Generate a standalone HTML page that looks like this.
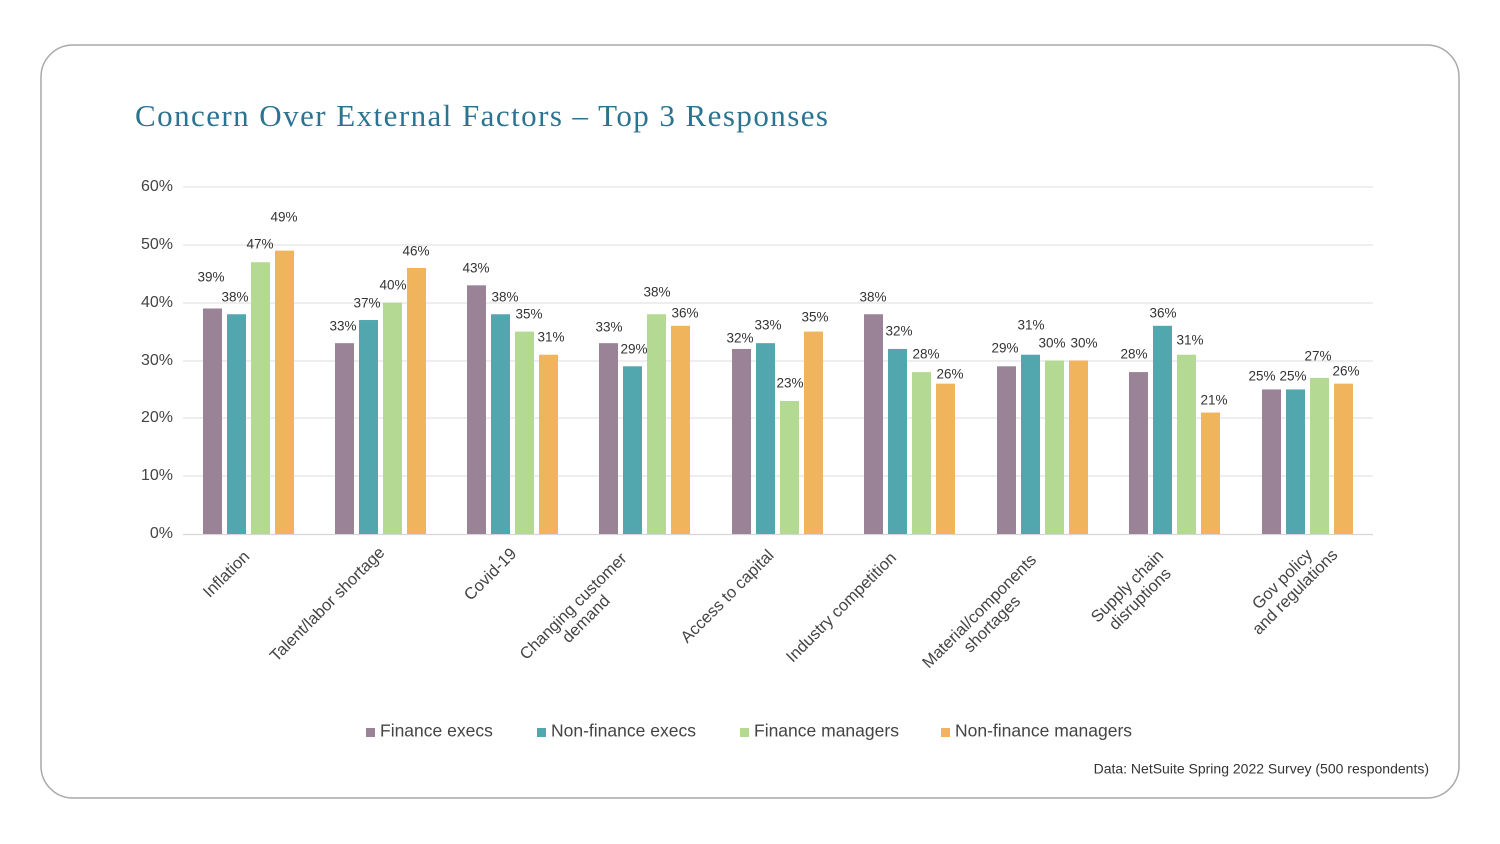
<!DOCTYPE html>
<html><head><meta charset="utf-8"><style>
body{margin:0;background:#fff;}
svg{display:block;font-family:"Liberation Sans",sans-serif;}
</style></head><body>
<svg width="1500" height="844" viewBox="0 0 1500 844">
<rect x="41" y="45" width="1418" height="753" rx="32" fill="#fff" stroke="#a9a9a9" stroke-width="1.5"/>
<text x="135" y="126" font-family="Liberation Serif,serif" font-size="31" fill="#2b7391" textLength="693" lengthAdjust="spacing">Concern Over External Factors – Top 3 Responses</text>
<g stroke="#e3e3e3" stroke-width="1.2">
<line x1="183" x2="1373" y1="187" y2="187"/><line x1="183" x2="1373" y1="245" y2="245"/>
<line x1="183" x2="1373" y1="303" y2="303"/><line x1="183" x2="1373" y1="361" y2="361"/>
<line x1="183" x2="1373" y1="418" y2="418"/><line x1="183" x2="1373" y1="476" y2="476"/>
<line x1="183" x2="1373" y1="534.5" y2="534.5" stroke="#d6d6d6"/>
</g>
<g font-size="16" fill="#444" text-anchor="end" dominant-baseline="middle">
<text x="173" y="187">60%</text><text x="173" y="245">50%</text><text x="173" y="303">40%</text>
<text x="173" y="361">30%</text><text x="173" y="418">20%</text><text x="173" y="476">10%</text><text x="173" y="534">0%</text>
</g>
<g id="bars"></g>
<g id="lbls" font-size="13.5" fill="#333" text-anchor="middle" dominant-baseline="middle"></g>
<g font-size="16.5" fill="#444" text-anchor="middle">
<text transform="translate(230,578) rotate(-45)">Inflation</text>
<text transform="translate(331,608) rotate(-45)">Talent/labor shortage</text>
<text transform="translate(494,578) rotate(-45)">Covid-19</text>
<text transform="translate(577,610) rotate(-45)"><tspan x="0" y="0">Changing customer</tspan><tspan x="0" y="18">demand</tspan></text>
<text transform="translate(731,600) rotate(-45)">Access to capital</text>
<text transform="translate(845,611) rotate(-45)">Industry competition</text>
<text transform="translate(983,615) rotate(-45)"><tspan x="0" y="0">Material/components</tspan><tspan x="0" y="18">shortages</tspan></text>
<text transform="translate(1131,590) rotate(-45)"><tspan x="0" y="0">Supply chain</tspan><tspan x="0" y="18">disruptions</tspan></text>
<text transform="translate(1286,583) rotate(-45)"><tspan x="0" y="0">Gov policy</tspan><tspan x="0" y="18">and regulations</tspan></text>
</g>
<g font-size="17.5" fill="#444" dominant-baseline="middle">
<rect x="366" y="728" width="9" height="9" fill="#9a8297"/><text x="380" y="732">Finance execs</text>
<rect x="537" y="728" width="9" height="9" fill="#52a6ae"/><text x="551" y="732">Non-finance execs</text>
<rect x="740" y="728" width="9" height="9" fill="#b3d992"/><text x="754" y="732">Finance managers</text>
<rect x="941" y="728" width="9" height="9" fill="#f0b45c"/><text x="955" y="732">Non-finance managers</text>
</g>
<text x="1429" y="770" font-size="14" fill="#333" text-anchor="end" dominant-baseline="middle">Data: NetSuite Spring 2022 Survey (500 respondents)</text>
</svg>
<script>
var starts=[203,335,467,599,732,864,997,1129,1262];
var vals=[[39,38,47,49],[33,37,40,46],[43,38,35,31],[33,29,38,36],[32,33,23,35],[38,32,28,26],[29,31,30,30],[28,36,31,21],[25,25,27,26]];
var lp=[[[211,278],[235,298],[260,245],[284,218]],[[343,327],[367,304],[393,286],[416,252]],[[476,269],[505,298],[529,315],[551,338]],[[609,328],[634,350],[657,293],[685,314]],[[740,339],[768,326],[790,384],[815,318]],[[873,298],[899,332],[926,355],[950,375]],[[1005,349],[1031,326],[1052,344],[1084,344]],[[1134,355],[1163,314],[1190,341],[1214,401]],[[1262,377],[1293,377],[1318,357],[1346,372]]];
var cols=["#9a8297","#52a6ae","#b3d992","#f0b45c"];
var ns="http://www.w3.org/2000/svg",b=document.getElementById("bars"),l=document.getElementById("lbls");
starts.forEach(function(s,g){for(var i=0;i<4;i++){var v=vals[g][i],h=v*57.83/10;
var r=document.createElementNS(ns,"rect");r.setAttribute("x",s+i*24);r.setAttribute("y",534-h);r.setAttribute("width",19);r.setAttribute("height",h);r.setAttribute("fill",cols[i]);b.appendChild(r);
var t=document.createElementNS(ns,"text");t.setAttribute("x",lp[g][i][0]);t.setAttribute("y",lp[g][i][1]);t.textContent=v+"%";l.appendChild(t);}});
</script>
</body></html>
